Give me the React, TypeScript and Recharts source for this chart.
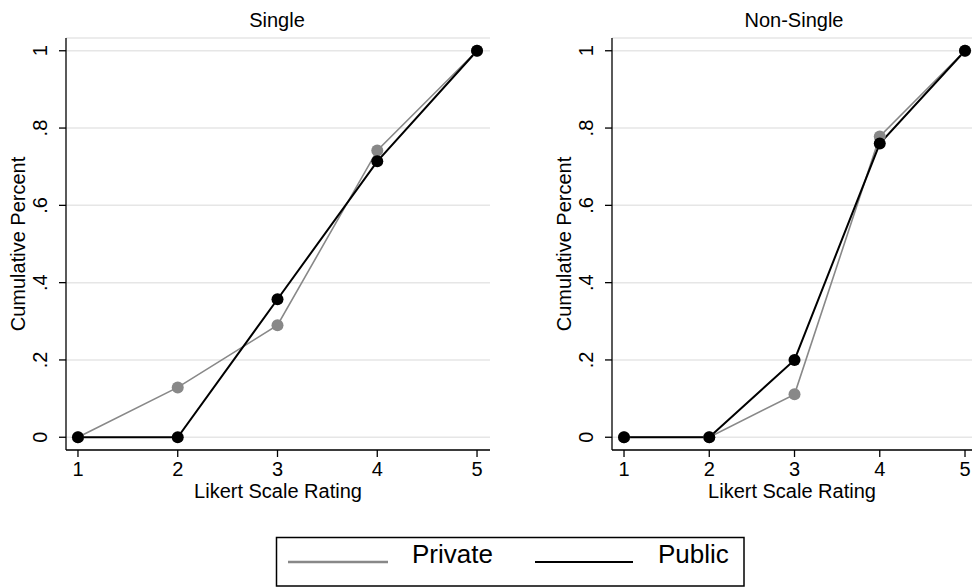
import React from 'react';
import { LineChart, Line, XAxis, YAxis, CartesianGrid } from 'recharts';

const ratings = [1, 2, 3, 4, 5];
const singlePrivate = [0, 0.129, 0.29, 0.742, 1];
const singlePublic = [0, 0, 0.357, 0.714, 1];
const nonSinglePrivate = [0, 0, 0.111, 0.778, 1];
const nonSinglePublic = [0, 0, 0.2, 0.76, 1];
const yTicks = [0, 0.2, 0.4, 0.6, 0.8, 1];
const yTickLabels = ['0', '.2', '.4', '.6', '.8', '1'];
const panelTitles = ['Single', 'Non-Single'];
const seriesNames = ['Private', 'Public'];

const FONT = '"Liberation Sans", Arial, Helvetica, sans-serif';
const GRAY = '#888888';
const BLACK = '#000000';

const buildRows = (priv: number[], pub: number[]) =>
  ratings.map((r, i) => ({ x: r, priv: priv[i], pub: pub[i] }));

const YTick = (props: any) => {
  const { x, y, payload } = props;
  const idx = yTicks.indexOf(payload.value);
  const label = idx >= 0 ? yTickLabels[idx] : String(payload.value);
  const tx = x - 12;
  return (
    <text x={tx} y={y} transform={`rotate(-90, ${tx}, ${y})`} textAnchor="middle"
      fontFamily={FONT} fontSize={20} fill="#000">{label}</text>
  );
};

const XTick = (props: any) => {
  const { x, y, payload } = props;
  return (
    <text x={x} y={y + 19} textAnchor="middle" fontFamily={FONT} fontSize={20} fill="#000">
      {payload.value}
    </text>
  );
};

const XLabel = (props: any) => {
  const vb = props.viewBox || {};
  return (
    <text x={vb.x + vb.width / 2} y={vb.y + 48} textAnchor="middle" fontFamily={FONT} fontSize={20} fill="#000">
      Likert Scale Rating
    </text>
  );
};

const YLabel = (props: any) => {
  const vb = props.viewBox || {};
  const tx = vb.x + vb.width - 41;
  const ty = vb.y + vb.height / 2;
  return (
    <text x={tx} y={ty} transform={`rotate(-90, ${tx}, ${ty})`} textAnchor="middle" fontFamily={FONT} fontSize={20} fill="#000">
      Cumulative Percent
    </text>
  );
};

type PanelProps = {
  priv: number[];
  pub: number[];
  width: number;
  xDomain: [number, number];
};

const Panel = ({ priv, pub, width, xDomain }: PanelProps) => (
  <LineChart width={width} height={510} data={buildRows(priv, pub)}
    margin={{ top: 38, right: 0, left: 0, bottom: 0 }}>
    <CartesianGrid vertical={false} stroke="#e6e6e6" strokeWidth={1.5} />
    <XAxis dataKey="x" type="number" domain={xDomain} ticks={ratings} allowDataOverflow
      height={60} tickSize={7} tickMargin={0} tick={<XTick />}
      axisLine={{ stroke: '#000', strokeWidth: 1.3 }} tickLine={{ stroke: '#000', strokeWidth: 1.3 }}
      label={<XLabel />} />
    <YAxis type="number" domain={[-0.033, 1.033]} ticks={yTicks} allowDataOverflow
      width={66} tickSize={7} tickMargin={0} tick={<YTick />}
      axisLine={{ stroke: '#000', strokeWidth: 1.3 }} tickLine={{ stroke: '#000', strokeWidth: 1.3 }}
      label={<YLabel />} />
    <Line dataKey="priv" type="linear" stroke={GRAY} strokeWidth={1.6} isAnimationActive={false}
      dot={{ r: 6, fill: GRAY, stroke: 'none' }} activeDot={false} />
    <Line dataKey="pub" type="linear" stroke={BLACK} strokeWidth={2} isAnimationActive={false}
      dot={{ r: 6, fill: BLACK, stroke: 'none' }} activeDot={false} />
  </LineChart>
);

export default function App() {
  return (
    <div style={{ position: 'absolute', left: 0, top: 0, width: 972, height: 587, background: '#fff', overflow: 'hidden' }}>
      <div style={{ position: 'absolute', left: 0, top: 0 }}>
        <Panel priv={singlePrivate} pub={singlePublic} width={490} xDomain={[0.88, 5.13]} />
      </div>
      <div style={{ position: 'absolute', left: 546, top: 0 }}>
        <Panel priv={nonSinglePrivate} pub={nonSinglePublic} width={426} xDomain={[0.859, 5.082]} />
      </div>
      <svg width={972} height={587} style={{ position: 'absolute', left: 0, top: 0, pointerEvents: 'none' }}>
        <text x={277} y={27} textAnchor="middle" fontFamily={FONT} fontSize={20} fill="#000">{panelTitles[0]}</text>
        <text x={794} y={27} textAnchor="middle" fontFamily={FONT} fontSize={20} fill="#000">{panelTitles[1]}</text>
        <rect x={276.5} y={537.5} width={467.5} height={48.5} fill="#fff" stroke="#000" strokeWidth={1.5} />
        <line x1={288} y1={562} x2={388} y2={562} stroke={GRAY} strokeWidth={2.5} />
        <text x={412} y={563} fontFamily={FONT} fontSize={26} fill="#000">{seriesNames[0]}</text>
        <line x1={535} y1={562} x2={633} y2={562} stroke={BLACK} strokeWidth={2} />
        <text x={658} y={563} fontFamily={FONT} fontSize={26} fill="#000">{seriesNames[1]}</text>
      </svg>
    </div>
  );
}
